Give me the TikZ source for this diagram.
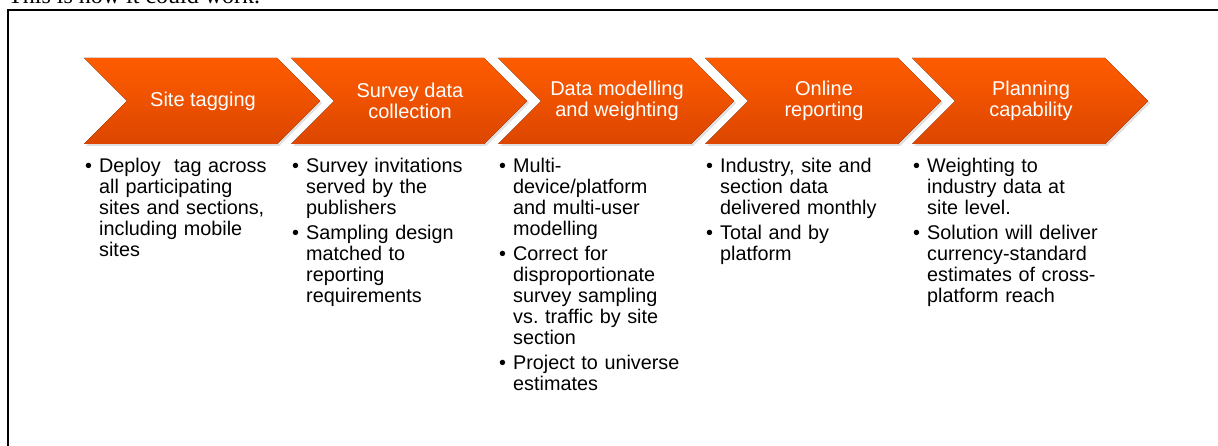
\documentclass[tikz,border=0pt]{standalone}
\usepackage{fontspec}
\setmainfont{Liberation Sans}
\newfontfamily\capfont{Liberation Serif}
\usetikzlibrary{shadows}
\frenchspacing

\definecolor{chevtop}{RGB}{255,92,0}
\definecolor{chevbot}{RGB}{220,70,0}

\tikzset{
  chevron/.style={top color=chevtop, bottom color=chevbot, draw=none,
    drop shadow={opacity=0.25, shadow xshift=2pt, shadow yshift=-2pt}},
  steptitle/.style={white, align=center, inner sep=0pt,
    font=\fontsize{20}{21}\selectfont},
  steplist/.style={anchor=north west, inner sep=0pt, text width=200pt,
    font=\fontsize{19.8}{21}\selectfont},
  frameline/.style={line width=1.6pt, black}
}

% one bullet item with a hanging indent
\newcommand{\bitem}[1]{\par\noindent\hangindent=14pt\hangafter=1%
  \makebox[14pt][l]{\textbullet}{\let\\\newline #1}\par}

\begin{document}
\begin{tikzpicture}[x=1pt, y=-1pt]
\useasboundingbox (0,0) rectangle (1218,446);
\node [anchor=base west, inner sep=0pt, font=\capfont\fontsize{24}{28}\selectfont] (caption) at (8,3.5) {This is how it could work.};
\draw [frameline] (8,460) -- (8,10) -- (1240,10);

% the five steps
\foreach \x/\name/\title in {84/tag/Site tagging, 291/survey/Survey data\\collection,
    498/model/Data modelling\\and weighting, 705/report/Online\\reporting,
    912/plan/Planning\\capability} {
  \fill [chevron] (\x,58) -- (\x+193,58) -- (\x+236,101) -- (\x+193,144)
    -- (\x,144) -- (\x+43,101) -- cycle;
  \node [steptitle] (\name) at (\x+119,101) {\title};
}

% bullet lists under the steps
\node [steplist] (tagtext) at (85,147.5) {\setlength{\parskip}{4pt}%
  \bitem{Deploy\ \ tag across\\all participating\\sites and sections,\\including mobile\\sites}};
\node [steplist] (surveytext) at (292,147.5) {\setlength{\parskip}{4pt}%
  \bitem{Survey invitations\\served by the\\publishers}
  \bitem{Sampling design\\matched to\\reporting\\requirements}};
\node [steplist] (modeltext) at (499,147.5) {\setlength{\parskip}{4pt}%
  \bitem{Multi-\\device/platform\\and multi-user\\modelling}
  \bitem{Correct for\\disproportionate\\survey sampling\\vs. traffic by site\\section}
  \bitem{Project to universe\\estimates}};
\node [steplist] (reporttext) at (706,147.5) {\setlength{\parskip}{4pt}%
  \bitem{Industry, site and\\section data\\delivered monthly}
  \bitem{Total and by\\platform}};
\node [steplist] (plantext) at (913,147.5) {\setlength{\parskip}{4pt}%
  \bitem{Weighting to\\industry data at\\site level.}
  \bitem{Solution will deliver\\currency-standard\\estimates of cross-\\platform reach}};
\end{tikzpicture}
\end{document}
